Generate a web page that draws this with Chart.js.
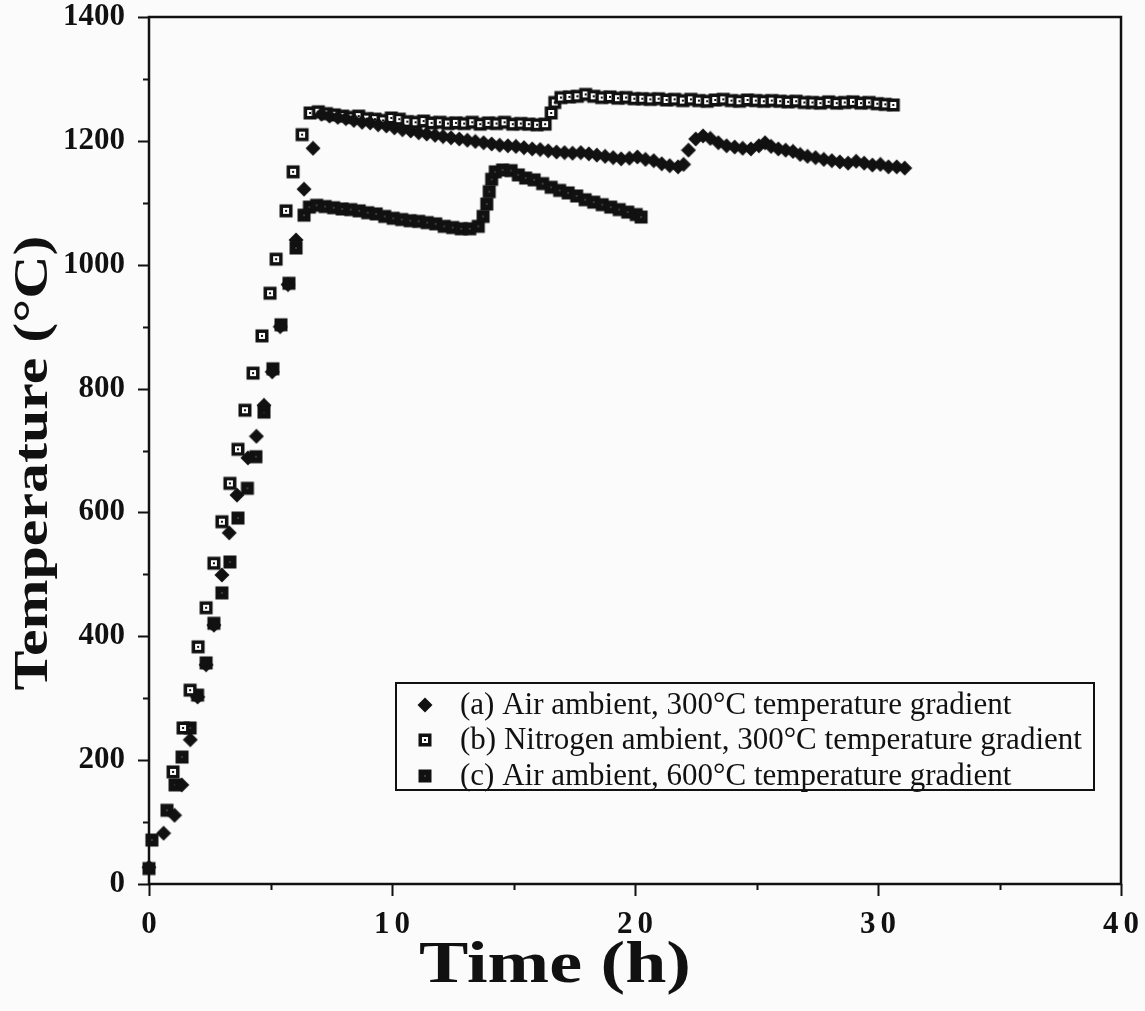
<!DOCTYPE html>
<html><head><meta charset="utf-8">
<script src="https://cdn.jsdelivr.net/npm/chart.js@4.4.0/dist/chart.umd.min.js"></script>
<style>html,body{margin:0;padding:0;background:#fbfbfb;}canvas{display:block;}</style>
</head><body>
<canvas id="c" width="1145" height="1011"></canvas>
<script>
// ---- data ----
const seriesLabels = [
  "(a) Air ambient, 300°C temperature gradient",
  "(b) Nitrogen ambient, 300°C temperature gradient",
  "(c) Air ambient, 600°C temperature gradient"
];
const xTitle = "Time (h)";
const yTitle = "Temperature (°C)";
const xTicks = [0, 10, 20, 30, 40];
const yTicks = [0, 200, 400, 600, 800, 1000, 1200, 1400];

const timeA = [0, 0.6, 1.05, 1.35, 1.7, 2.0, 2.35, 2.67, 3.0, 3.3, 3.62, 4.07, 4.42, 4.73, 5.07, 5.4, 5.72, 6.05, 6.38, 6.75,
  7.1, 7.43, 7.77, 8.1, 8.43, 8.77, 9.1, 9.43, 9.77, 10.1, 10.43, 10.77, 11.1, 11.43, 11.77, 12.1, 12.43, 12.77, 13.1, 13.43,
  13.77, 14.1, 14.43, 14.77, 15.1, 15.43, 15.77, 16.1, 16.43, 16.77, 17.1, 17.43, 17.77, 18.1, 18.43, 18.77, 19.1, 19.43, 19.77, 20.1,
  20.43, 20.77, 21.1, 21.43, 21.77,
  22.0, 22.2, 22.5, 22.8, 23.1, 23.43, 23.77, 24.1, 24.43, 24.77, 25.1, 25.35, 25.6, 25.9, 26.2, 26.5, 26.8, 27.1, 27.43, 27.77,
  28.1, 28.43, 28.77, 29.1, 29.43, 29.77, 30.1, 30.43, 30.77, 31.1];
const tempA = [27, 82, 111, 160, 233, 302, 354, 418, 499, 567, 628, 688, 723, 773, 827, 900, 968, 1040, 1122, 1188,
  1243, 1240, 1238, 1236, 1233, 1230, 1229, 1226, 1224, 1221, 1218, 1216, 1213, 1211, 1209, 1207, 1205, 1203, 1201, 1199,
  1197, 1195, 1193, 1192, 1191, 1189, 1187, 1186, 1184, 1182, 1181, 1180, 1181, 1179, 1177, 1175, 1173, 1171, 1172, 1174,
  1170, 1168, 1163, 1160, 1158,
  1162, 1185, 1203, 1208, 1204, 1197, 1192, 1190, 1188, 1187, 1192, 1197, 1191, 1187, 1185, 1183, 1178, 1175, 1173, 1170,
  1168, 1166, 1164, 1167, 1164, 1161, 1162, 1158, 1158, 1156];

const timeB = [0.99, 1.4, 1.69, 2.02, 2.35, 2.67, 3.0, 3.33, 3.66, 3.95, 4.28, 4.65, 4.98, 5.23, 5.64, 5.93, 6.3, 6.63,
  6.97, 7.3, 7.63, 7.97, 8.3, 8.63, 8.97, 9.3, 9.63, 9.97, 10.3, 10.63, 10.97, 11.3, 11.63, 11.97, 12.3, 12.63, 12.97, 13.3,
  13.63, 13.97, 14.3, 14.63, 14.97, 15.3, 15.63, 15.97, 16.3, 16.55, 16.7,
  16.95, 17.3, 17.63, 17.97, 18.3, 18.63, 18.97, 19.3, 19.63, 19.97, 20.3, 20.63, 20.97, 21.3, 21.63, 21.97, 22.3, 22.63, 22.97, 23.3,
  23.63, 23.97, 24.3, 24.63, 24.97, 25.3, 25.63, 25.97, 26.3, 26.63, 26.97, 27.3, 27.63, 27.97, 28.3, 28.63, 28.97, 29.3, 29.63, 29.97,
  30.3, 30.63];
const tempB = [181, 252, 313, 383, 446, 518, 585, 647, 702, 765, 825, 885, 954, 1009, 1087, 1150, 1210, 1245,
  1247, 1244, 1242, 1240, 1238, 1240, 1236, 1235, 1233, 1237, 1235, 1231, 1230, 1232, 1229, 1230, 1228, 1229, 1228, 1230,
  1227, 1229, 1228, 1230, 1227, 1228, 1227, 1226, 1227, 1245, 1262,
  1270, 1271, 1272, 1275, 1272, 1270, 1271, 1269, 1270, 1268, 1268, 1267, 1268, 1266, 1267, 1265, 1267, 1265, 1264, 1266,
  1267, 1265, 1264, 1266, 1265, 1264, 1265, 1264, 1263, 1264, 1262, 1262, 1261, 1263, 1261, 1262, 1263, 1261, 1262, 1260,
  1259, 1258];

const timeC = [0, 0.12, 0.74, 1.07, 1.36, 1.69, 2.0, 2.35, 2.67, 3.0, 3.33, 3.66, 4.05, 4.4, 4.73, 5.1, 5.43, 5.76, 6.05, 6.38,
  6.6, 6.9, 7.25, 7.6, 7.95, 8.3, 8.65, 9.0, 9.35, 9.7, 10.05, 10.4, 10.75, 11.1, 11.45, 11.8, 12.15, 12.5, 12.85, 13.2, 13.55,
  13.75, 13.9, 14.0, 14.1, 14.25,
  14.55, 14.9, 15.2, 15.5, 15.85, 16.2, 16.55, 16.9, 17.25, 17.6, 17.95, 18.3, 18.65, 19.0, 19.35, 19.7, 20.05, 20.25];
const tempC = [25, 71, 119, 160, 205, 252, 305, 357, 421, 470, 520, 591, 639, 690, 762, 832, 903, 970, 1027, 1080,
  1093, 1096, 1094, 1092, 1090, 1089, 1087, 1084, 1082, 1078, 1075, 1073, 1071, 1070, 1068, 1066, 1062, 1060, 1058, 1058, 1062,
  1078, 1098, 1118, 1138, 1150,
  1153, 1152, 1145, 1140, 1137, 1131, 1125, 1120, 1116, 1111, 1105, 1101, 1097, 1093, 1089, 1085, 1081, 1077];

// ---- marker drawing ----
const INK = '#111';
const BG = '#fbfbfb';
function drawMarker(ctx, kind, cx, cy) {
  ctx.save();
  ctx.fillStyle = INK;
  if (kind === 'diamond') {
    ctx.beginPath();
    ctx.moveTo(cx, cy - 7.5); ctx.lineTo(cx + 7.5, cy); ctx.lineTo(cx, cy + 7.5); ctx.lineTo(cx - 7.5, cy);
    ctx.closePath(); ctx.fill();
  } else if (kind === 'open') {
    ctx.fillRect(cx - 6.5, cy - 6.5, 13, 13);
    ctx.fillStyle = BG;
    ctx.fillRect(cx - 3, cy - 3, 6, 6);
    ctx.fillStyle = INK;
    ctx.fillRect(cx - 1, cy - 1, 2, 2);
  } else {
    ctx.fillRect(cx - 6.5, cy - 6.5, 13, 13);
    ctx.fillStyle = '#bbb';
    ctx.fillRect(cx - 0.5, cy - 0.5, 1, 1);
  }
  ctx.restore();
}
function markerCanvas(kind) {
  const c = document.createElement('canvas');
  c.width = 16; c.height = 16;
  drawMarker(c.getContext('2d'), kind, 8, 8);
  return c;
}
const kinds = ['diamond', 'open', 'filled'];
const pts = (xs, ys) => xs.map((x, i) => ({x: x, y: ys[i]}));

const decor = {
  id: 'decor',
  beforeDraw(chart) {
    const ctx = chart.ctx;
    ctx.save(); ctx.fillStyle = BG; ctx.fillRect(0, 0, chart.width, chart.height); ctx.restore();
  },
  beforeDatasetsDraw(chart) {
    const {ctx, chartArea: a, scales: {x, y}} = chart;
    ctx.save();
    ctx.strokeStyle = INK; ctx.lineWidth = 2.5;
    ctx.strokeRect(a.left, a.top, a.right - a.left, a.bottom - a.top);
    ctx.lineWidth = 2;
    ctx.beginPath();
    for (let v = 0; v <= 1400; v += 100) {
      const py = Math.round(y.getPixelForValue(v)) + 0.5;
      const len = v % 200 === 0 ? 11 : 6;
      ctx.moveTo(a.left - len, py); ctx.lineTo(a.left, py);
    }
    for (let v = 0; v <= 40; v += 5) {
      const px = Math.round(x.getPixelForValue(v)) + 0.5;
      const len = v % 10 === 0 ? 12 : 6;
      ctx.moveTo(px, a.bottom); ctx.lineTo(px, a.bottom + len);
    }
    ctx.stroke();
    // x tick labels
    ctx.fillStyle = INK;
    ctx.font = 'bold 31px "Liberation Serif"';
    ctx.textAlign = 'center'; ctx.textBaseline = 'middle';
    try { ctx.letterSpacing = '5px'; } catch (e) {}
    xTicks.forEach(v => ctx.fillText(String(v), x.getPixelForValue(v) + 2.5, a.bottom + 41));
    try { ctx.letterSpacing = '0px'; } catch (e) {}
    // x title
    ctx.save();
    ctx.font = 'bold 60px "Liberation Serif"';
    let w = ctx.measureText(xTitle).width;
    ctx.translate(555, 966);
    ctx.scale(272 / w, 1);
    ctx.fillText(xTitle, 0, 0);
    ctx.restore();
    // y title
    ctx.save();
    ctx.font = 'bold 48px "Liberation Serif"';
    w = ctx.measureText(yTitle).width;
    ctx.translate(35, 463);
    ctx.rotate(-Math.PI / 2);
    ctx.scale(455 / w, 1);
    ctx.fillText(yTitle, 0, 0);
    ctx.restore();
    ctx.restore();
  },
  afterDatasetsDraw(chart) {
    const ctx = chart.ctx;
    ctx.save();
    ctx.strokeStyle = INK; ctx.lineWidth = 2;
    ctx.strokeRect(396, 683, 698, 107);
    ctx.font = '31px "Liberation Serif"';
    ctx.fillStyle = INK; ctx.textAlign = 'left'; ctx.textBaseline = 'middle';
    const rows = [705, 740, 776];
    seriesLabels.forEach((lab, i) => {
      drawMarker(ctx, kinds[i], 425, rows[i]);
      ctx.fillStyle = INK;
      ctx.fillText(lab, 460, rows[i] + 1);
    });
    ctx.restore();
  }
};

new Chart(document.getElementById('c'), {
  type: 'scatter',
  data: {
    datasets: [
      {label: seriesLabels[0], data: pts(timeA, tempA), pointStyle: markerCanvas('diamond'), order: 1, clip: false},
      {label: seriesLabels[1], data: pts(timeB, tempB), pointStyle: markerCanvas('open'), order: 2, clip: false},
      {label: seriesLabels[2], data: pts(timeC, tempC), pointStyle: markerCanvas('filled'), order: 3, clip: false}
    ]
  },
  options: {
    responsive: false,
    animation: false,
    events: [],
    layout: {padding: {left: 0, right: 24, top: 17, bottom: 0}},
    plugins: {legend: {display: false}, tooltip: {enabled: false}},
    scales: {
      x: {
        type: 'linear', min: 0, max: 40,
        grid: {display: false, drawTicks: false},
        border: {display: false},
        ticks: {display: false},
        afterFit: s => { s.height = 127; s.paddingLeft = 0; s.paddingRight = 0; }
      },
      y: {
        type: 'linear', min: 0, max: 1400,
        grid: {display: false, drawTicks: false},
        border: {display: false},
        afterBuildTicks: s => { s.ticks = yTicks.map(v => ({value: v})); },
        ticks: {
          color: INK, padding: 24,
          font: {family: '"Liberation Serif"', weight: 'bold', size: 31},
          callback: v => String(v)
        },
        afterFit: s => { s.width = 149; s.paddingTop = 0; s.paddingBottom = 0; }
      }
    }
  },
  plugins: [decor]
});
</script>
</body></html>
